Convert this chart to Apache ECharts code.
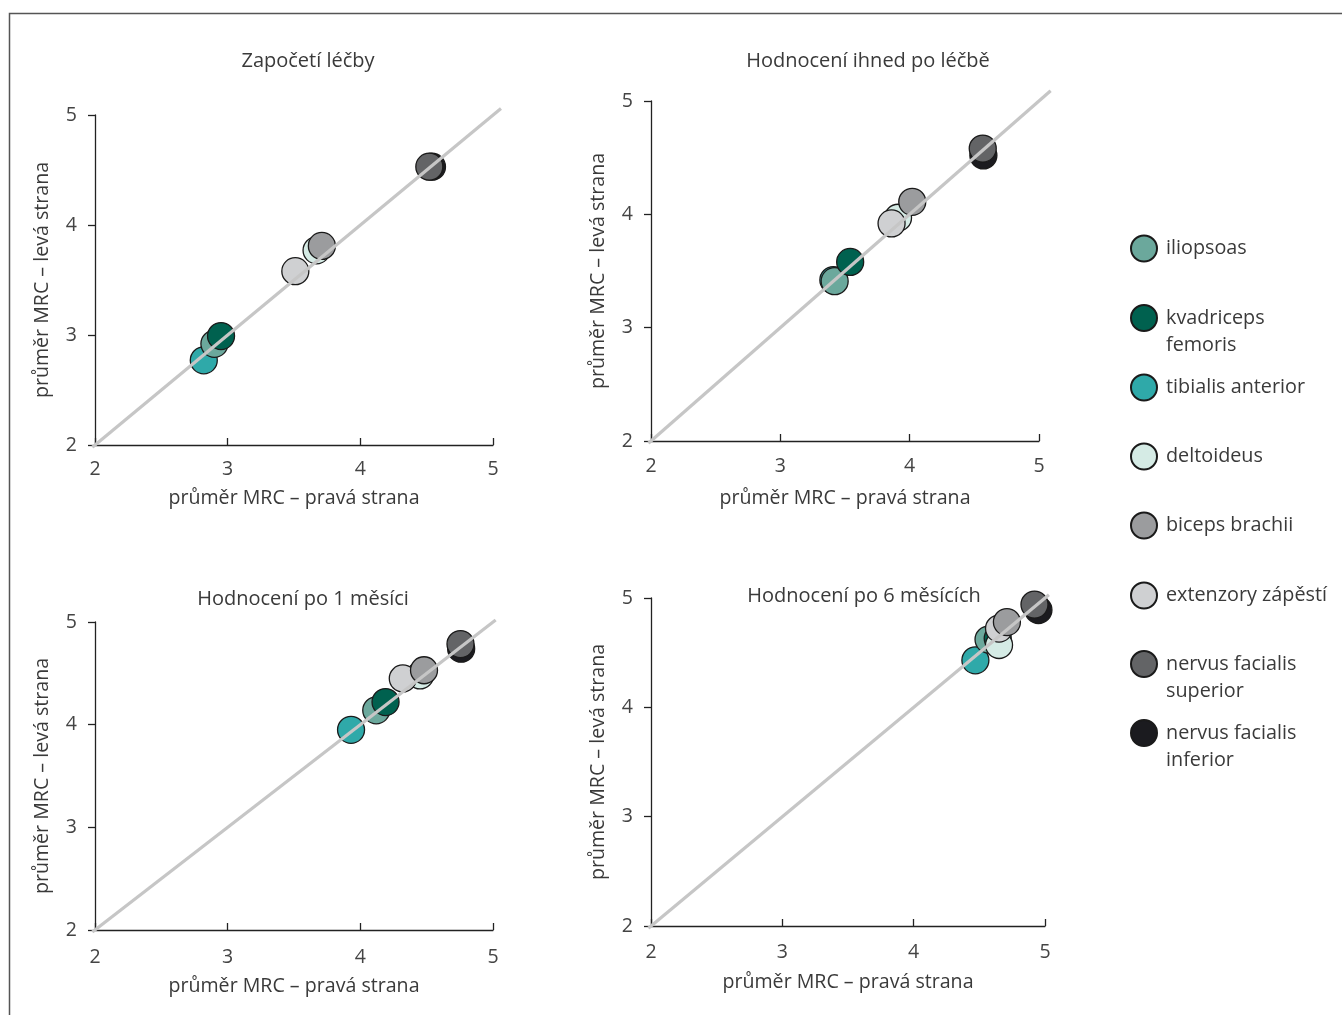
<!DOCTYPE html>
<html>
<head>
<meta charset="utf-8">
<title>Průměr MRC – pravá a levá strana</title>
<script src="https://cdn.jsdelivr.net/npm/echarts@6/dist/echarts.min.js"></script>
<style>
  html, body { margin: 0; padding: 0; background: #fff; }
  #chart { width: 1342px; height: 1015px; }
</style>
</head>
<body>
<div id="chart"></div>
<script>
// svaly v poradi legendy
const muscles = [
  "iliopsoas",
  "kvadriceps femoris",
  "tibialis anterior",
  "deltoideus",
  "biceps brachii",
  "extenzory zápěstí",
  "nervus facialis superior",
  "nervus facialis inferior",
];
// prazdny prvni radek -> prvni radek textu je u ikony
const legendLabels = [
  "iliopsoas",
  "\nkvadriceps\nfemoris",
  "tibialis anterior",
  "deltoideus",
  "biceps brachii",
  "extenzory zápěstí",
  "\nnervus facialis\nsuperior",
  "\nnervus facialis\ninferior",
];
const panelTitles = [
  "Započetí léčby",
  "Hodnocení ihned po léčbě",
  "Hodnocení po 1 měsíci",
  "Hodnocení po 6 měsících",
];
const xName = "průměr MRC – pravá strana";
const yName = "průměr MRC – levá strana";
const tickLabels = [2, 3, 4, 5];

// prumer MRC - prava strana (x) a leva strana (y), poradi jako muscles
const rightStart = [2.90, 2.95, 2.82, 3.67, 3.71, 3.51, 4.52, 4.54];
const leftStart = [2.92, 2.99, 2.77, 3.77, 3.81, 3.58, 4.53, 4.53];
const rightAfter = [3.42, 3.54, 3.41, 3.91, 4.02, 3.86, 4.565, 4.57];
const leftAfter = [3.41, 3.58, 3.42, 3.97, 4.11, 3.92, 4.58, 4.52];
const right1m = [4.12, 4.19, 3.93, 4.45, 4.48, 4.32, 4.755, 4.76];
const left1m = [4.14, 4.22, 3.95, 4.48, 4.53, 4.45, 4.785, 4.74];
const right6m = [4.57, 4.64, 4.47, 4.65, 4.71, 4.65, 4.92, 4.95];
const left6m = [4.62, 4.63, 4.43, 4.57, 4.78, 4.72, 4.94, 4.89];

// diagonala y = x (presahuje konec os)
const diagonalStart = 1.98;
const diagonalEnds = [5.06, 5.09, 5.02, 5.03];

const panels = [
  [rightStart, leftStart],
  [rightAfter, leftAfter],
  [right1m, left1m],
  [right6m, left6m],
];

const colors = ["#6ba89c", "#00614f", "#2fa9a9", "#d5ebe5", "#9b9c9e", "#cfd0d2", "#636466", "#1b1b1f"];
// poradi kresleni (posledni je navrchu)
const drawOrder = [2, 0, 1, 3, 5, 4, 7, 6];

const font = "'Open Sans', 'Noto Sans', sans-serif";
const textColor = "#3a3a3a";

const grids = [
  { left: 95, top: 115, width: 398, height: 330 },
  { left: 651, top: 101, width: 388, height: 340 },
  { left: 95, top: 622, width: 398, height: 308 },
  { left: 651, top: 598, width: 394, height: 328 },
];
const titlePos = [
  { left: 308, top: 51 },
  { left: 868, top: 51 },
  { left: 303, top: 589 },
  { left: 864, top: 586 },
];
const xNameGaps = [43, 47, 46, 46];
const xLabelMargins = [14, 15, 17, 16];
const legendTops = [248, 318, 387, 456, 525, 595, 664, 733];

const lo = tickLabels[0];
const hi = tickLabels[tickLabels.length - 1];

// pomocne mrizky pro diagonalu se stejnym merítkem, jen delsi rozsah
const diagGrids = grids.map((g, i) => {
  const ux = g.width / (hi - lo);
  const uy = g.height / (hi - lo);
  return {
    left: g.left - (lo - diagonalStart) * ux,
    top: g.top - (diagonalEnds[i] - hi) * uy,
    width: (diagonalEnds[i] - diagonalStart) * ux,
    height: (diagonalEnds[i] - diagonalStart) * uy,
  };
});

const axisLine = { show: true, onZero: false, lineStyle: { color: "#222", width: 1.3 } };

const xAxes = grids.map((g, i) => ({
  type: "value",
  gridIndex: i,
  min: lo,
  max: hi,
  interval: 1,
  axisLine: axisLine,
  axisTick: { show: true, inside: true, length: 7, lineStyle: { color: "#222", width: 1.3 } },
  splitLine: { show: false },
  axisLabel: { fontSize: 19.5, color: "#444", margin: xLabelMargins[i], fontFamily: font },
  name: xName,
  nameLocation: "middle",
  nameGap: xNameGaps[i],
  nameTextStyle: { fontSize: 19.6, color: textColor, fontFamily: font },
}));

const yAxes = grids.map((g, i) => ({
  type: "value",
  gridIndex: i,
  min: lo,
  max: hi,
  interval: 1,
  axisLine: axisLine,
  axisTick: { show: true, inside: false, length: 7, lineStyle: { color: "#222", width: 1.3 } },
  splitLine: { show: false },
  axisLabel: { fontSize: 19.5, color: "#444", margin: 18, fontFamily: font },
  name: yName,
  nameLocation: "middle",
  nameGap: 43,
  nameRotate: 90,
  nameTextStyle: { fontSize: 19.6, color: textColor, fontFamily: font },
}));

// skryte osy pro diagonalu
diagGrids.forEach((g, i) => {
  xAxes.push({ type: "value", gridIndex: 4 + i, min: diagonalStart, max: diagonalEnds[i], show: false });
  yAxes.push({ type: "value", gridIndex: 4 + i, min: diagonalStart, max: diagonalEnds[i], show: false });
});

const series = [];
panels.forEach((p, i) => {
  drawOrder.forEach((m) => {
    series.push({
      type: "scatter",
      name: muscles[m],
      xAxisIndex: i,
      yAxisIndex: i,
      symbol: "circle",
      symbolSize: 27,
      z: 2,
      itemStyle: { color: colors[m], borderColor: "#1a1a1a", borderWidth: 1.3, opacity: 1 },
      data: [[p[0][m], p[1][m]]],
    });
  });
  // seda diagonala pres body
  series.push({
    type: "line",
    xAxisIndex: 4 + i,
    yAxisIndex: 4 + i,
    silent: true,
    symbol: "none",
    z: 3,
    lineStyle: { color: "#c6c6c6", width: 3.2 },
    data: [
      [diagonalStart, diagonalStart],
      [diagonalEnds[i], diagonalEnds[i]],
    ],
  });
});

// legenda: jedna komponenta na polozku
const lineH = 27;
const legends = muscles.map((name, i) => {
  const multi = legendLabels[i].indexOf("\n") >= 0;
  return {
    data: [name],
    orient: "vertical",
    left: 1130,
    top: multi ? legendTops[i] - 40.5 : legendTops[i] - 13.5,
    padding: 0,
    itemWidth: 26,
    itemHeight: 26,
    icon: "circle",
    formatter: () => legendLabels[i],
    textStyle: {
      fontSize: 19.8,
      color: textColor,
      fontFamily: font,
      lineHeight: lineH,
      padding: [0, 0, 0, 4],
    },
  };
});

const option = {
  backgroundColor: "#fff",
  animation: false,
  title: panelTitles.map((t, i) => ({
    text: t,
    left: titlePos[i].left,
    top: titlePos[i].top,
    textAlign: "center",
    padding: 0,
    textStyle: { fontSize: 20, fontWeight: "normal", color: textColor, fontFamily: font },
  })),
  grid: grids.concat(diagGrids),
  xAxis: xAxes,
  yAxis: yAxes,
  legend: legends,
  series: series,
  graphic: [
    {
      type: "rect",
      silent: true,
      shape: { x: 9.5, y: 13.5, width: 1400, height: 1100 },
      style: { fill: "none", stroke: "#555", lineWidth: 1.5 },
    },
  ],
};

const chart = echarts.init(document.getElementById("chart"));
chart.setOption(option);
</script>
</body>
</html>
